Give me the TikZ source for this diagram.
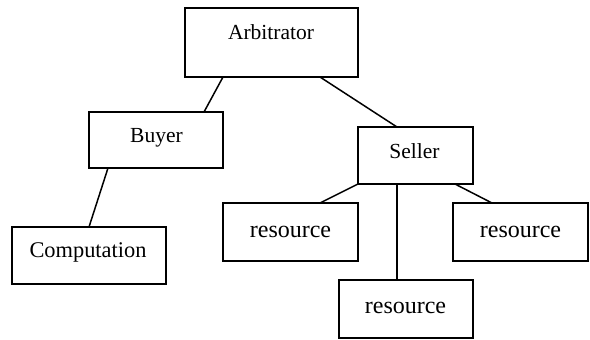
\documentclass[tikz,border=0pt]{standalone}
\usepackage{fontspec}
\setmainfont{Liberation Serif}
\usetikzlibrary{calc}
\begin{document}
\begin{tikzpicture}[x=0.5pt,y=-0.5pt,
  box/.style={draw=black,line width=0.75pt,rectangle,inner sep=0pt,outer sep=0pt},
  lbl/.style={anchor=base,inner sep=0pt,font=\fontsize{10.75pt}{13pt}\selectfont},
  lblc/.style={lbl,font=\fontsize{11.2pt}{13pt}\selectfont},
  lblr/.style={lbl,font=\fontsize{12pt}{14pt}\selectfont},
  conn/.style={draw=black,line width=0.75pt}]
\useasboundingbox (0,0) rectangle (590,339);
\node[box,minimum width=86.5pt,minimum height=34.5pt] (arb) at (271.5,42.5) {};
\node[box,minimum width=67pt,minimum height=28pt] (buyer) at (156,140) {};
\node[box,minimum width=57.5pt,minimum height=28.5pt] (seller) at (415.5,155.5) {};
\node[box,minimum width=77pt,minimum height=28.5pt] (comp) at (89,255.5) {};
\node[box,minimum width=67.5pt,minimum height=29pt] (resL) at (290.5,232) {};
\node[box,minimum width=67.5pt,minimum height=29pt] (resR) at (520.5,232) {};
\node[box,minimum width=67pt,minimum height=29pt] (resB) at (406,309) {};
\node[lbl] (arbt) at (271,39) {Arbitrator};
\node[lbl] (buyert) at (156.5,142) {Buyer};
\node[lbl] (sellert) at (414.5,158) {Seller};
\node[lblc] (compt) at (88,257) {Computation};
\node[lblr] (resLt) at (290.5,237) {resource};
\node[lblr] (resRt) at (520.5,237) {resource};
\node[lblr] (resBt) at (405.5,313) {resource};
\draw[conn] ($(arb.south west)+(38,0)$) -- ($(buyer.north west)+(115,0)$);
\draw[conn] ($(arb.south west)+(135,0)$) -- ($(seller.north west)+(39,0)$);
\draw[conn] ($(buyer.south west)+(19,0)$) -- ($(comp.north west)+(77,0)$);
\draw[conn] (seller.south west) -- ($(resL.north west)+(97,0)$);
\draw[conn] ($(seller.south west)+(39,0)$) -- ($(resB.north west)+(58,0)$);
\draw[conn] ($(seller.south west)+(97,0)$) -- ($(resR.north west)+(39,0)$);
\end{tikzpicture}
\end{document}
